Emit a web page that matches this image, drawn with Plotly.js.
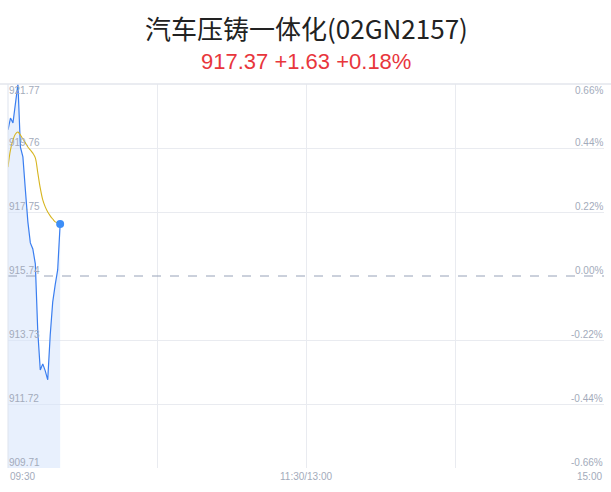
<!DOCTYPE html>
<html>
<head>
<meta charset="utf-8">
<script src="https://cdn.plot.ly/plotly-3.0.1.min.js"></script>
<style>
  html, body { margin: 0; padding: 0; background: #fff; }
  #chart { width: 611px; height: 492px; }
</style>
</head>
<body>
<div id="chart"></div>
<script>
// minute index from 09:30 (0..240 trading minutes)
const minutes = [0, 1, 2, 3, 4, 5, 6, 7, 8, 9, 10, 11, 12, 13, 14, 15, 16, 17, 18, 19, 20, 21];
const price = [920.33, 920.70, 920.55, 921.24, 921.77, 919.79, 919.48, 918.44, 917.44, 916.78, 916.59,
  916.12, 913.98, 912.79, 912.98, 912.76, 912.48, 913.89, 914.92, 915.46, 915.93, 917.37];
const avgPrice = [919.16, 919.70, 920.01, 920.20, 920.26, 920.17, 920.04, 919.92, 919.79, 919.70, 919.60,
  919.45, 918.98, 918.50, 918.13, 917.91, 917.75, 917.63, 917.53, 917.44, 917.41, 917.37];
const prevClose = 915.74;
const priceTicks = [921.77, 919.76, 917.75, 915.74, 913.73, 911.72, 909.71];
const pctTicks = ['0.66%', '0.44%', '0.22%', '0.00%', '-0.22%', '-0.44%', '-0.66%'];
const timeTicks = [0, 60, 120, 180, 240];
const timeLabels = ['09:30', '11:30/13:00', '15:00'];
const timeLabelPos = [0, 120, 240];

const last = price.length - 1;
const labelFont = { family: 'Liberation Sans, Arial, sans-serif', size: 10, color: '#a3abbb' };

const traces = [
  {
    x: minutes, y: price, type: 'scatter', mode: 'lines',
    line: { color: '#3a7ef0', width: 1.2 },
    fill: 'tozeroy', fillcolor: 'rgba(214,228,251,0.55)',
    hoverinfo: 'skip',
  },
  {
    x: minutes, y: avgPrice, type: 'scatter', mode: 'lines',
    line: { color: '#d7b520', width: 1.1, shape: 'spline' },
    hoverinfo: 'skip',
  },
  {
    x: [minutes[last]], y: [price[last]], type: 'scatter', mode: 'markers',
    marker: { color: '#3d8ef7', size: 8 },
    hoverinfo: 'skip',
  },
];

const annotations = [];
priceTicks.forEach((v, i) => {
  const top = i === 0;
  annotations.push({
    xref: 'paper', yref: 'y', x: 0, y: v, text: v.toFixed(2),
    xanchor: 'left', yanchor: top ? 'top' : 'bottom', showarrow: false,
    font: labelFont, xshift: -1, yshift: top ? 1 : -2,
  });
  annotations.push({
    xref: 'paper', yref: 'y', x: 1, y: v, text: pctTicks[i],
    xanchor: 'right', yanchor: top ? 'top' : 'bottom', showarrow: false,
    font: labelFont, xshift: 1, yshift: top ? 1 : -2,
  });
});
timeLabels.forEach((t, i) => {
  annotations.push({
    xref: 'x', yref: 'paper', x: timeLabelPos[i], y: 0, text: t,
    xanchor: i === 0 ? 'left' : (i === timeLabels.length - 1 ? 'right' : 'center'),
    yanchor: 'top', showarrow: false, font: labelFont, yshift: -1,
  });
});
annotations.push({
  xref: 'paper', yref: 'paper', x: 0.5, y: 1, yshift: 57, text: '汽车压铸一体化(02GN2157)',
  showarrow: false, xanchor: 'center', yanchor: 'middle',
  font: { family: 'Noto Sans CJK SC, sans-serif', size: 26, color: '#222222' },
});
annotations.push({
  xref: 'paper', yref: 'paper', x: 0.5, y: 1, yshift: 23,
  text: price[last].toFixed(2) + ' +' + (price[last] - prevClose).toFixed(2) + ' +' +
    ((price[last] - prevClose) / prevClose * 100).toFixed(2) + '%',
  showarrow: false, xanchor: 'center', yanchor: 'middle',
  font: { family: 'Liberation Sans, Arial, sans-serif', size: 22, color: '#e8363c' },
});

const layout = {
  width: 611, height: 492,
  margin: { l: 8, r: 7, t: 84, b: 24 },
  paper_bgcolor: '#ffffff', plot_bgcolor: '#ffffff',
  showlegend: false,
  xaxis: {
    range: [0, 240], tickvals: timeTicks, showticklabels: false, ticks: '',
    showgrid: true, gridcolor: '#e9ebf0', gridwidth: 1, zeroline: false,
    showline: false, fixedrange: true,
  },
  yaxis: {
    range: [priceTicks[priceTicks.length - 1], priceTicks[0]],
    tickvals: priceTicks.filter(v => v !== prevClose), showticklabels: false, ticks: '',
    showgrid: true, gridcolor: '#e9ebf0', gridwidth: 1, zeroline: false,
    showline: false, fixedrange: true,
  },
  shapes: [
    {
      type: 'line', xref: 'paper', yref: 'y', x0: 0, x1: 1, y0: prevClose, y1: prevClose,
      line: { color: '#97a2b8', width: 1, dash: 'dash' },
    },
    {
      type: 'line', xref: 'paper', yref: 'paper', x0: 0, x1: 0, y0: 0, y1: 1,
      line: { color: '#dde3ee', width: 1 },
    },
    {
      type: 'line', xref: 'paper', yref: 'paper', x0: -0.02, x1: 1.02, y0: 1, y1: 1,
      line: { color: '#e3e6ec', width: 1.5 },
    },
  ],
  annotations: annotations,
};

Plotly.newPlot('chart', traces, layout, { displayModeBar: false, staticPlot: true });
</script>
</body>
</html>
